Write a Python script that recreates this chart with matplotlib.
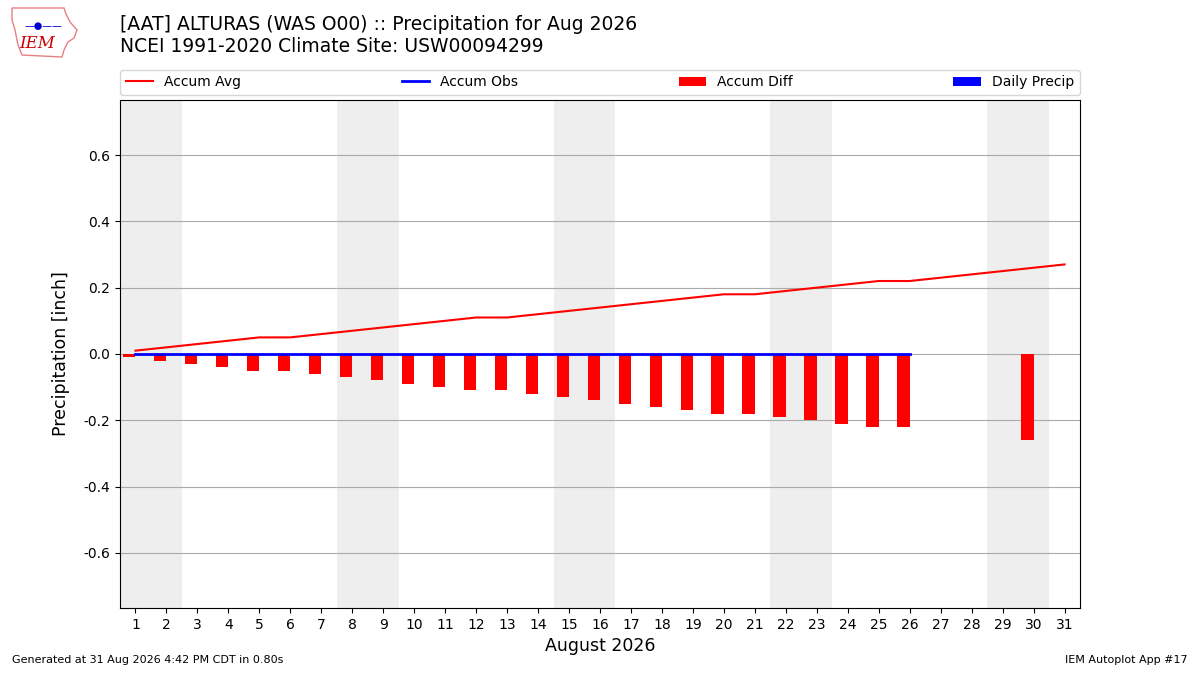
import matplotlib
matplotlib.use("Agg")
import matplotlib.pyplot as plt
from matplotlib.patches import Polygon

days = list(range(1, 32))
accum_avg = [0.01, 0.02, 0.03, 0.04, 0.05, 0.05, 0.06, 0.07, 0.08, 0.09, 0.10,
             0.11, 0.11, 0.12, 0.13, 0.14, 0.15, 0.16, 0.17, 0.18, 0.18, 0.19,
             0.20, 0.21, 0.22, 0.22, 0.23, 0.24, 0.25, 0.26, 0.27]
obs_days = list(range(1, 27))
accum_obs = [0.0] * 26
diff_days = list(range(1, 27)) + [30]
accum_diff = [-0.01, -0.02, -0.03, -0.04, -0.05, -0.05, -0.06, -0.07, -0.08,
              -0.09, -0.10, -0.11, -0.11, -0.12, -0.13, -0.14, -0.15, -0.16,
              -0.17, -0.18, -0.18, -0.19, -0.20, -0.21, -0.22, -0.22, -0.26]
daily_precip = [0.0] * 26
weekend_starts = [1, 8, 15, 22, 29]
yticks = [-0.6, -0.4, -0.2, 0.0, 0.2, 0.4, 0.6]

fig = plt.figure(figsize=(12, 6.75), dpi=100)
ax = fig.add_axes([0.1, 0.0993, 0.8, 0.7526])

for d in weekend_starts:
    ax.axvspan(d - 0.5, d + 1.5, color="#EEEEEE", zorder=0, lw=0)

ax.bar(obs_days, daily_precip, width=0.4, align="edge", color="b",
       label="Daily Precip", zorder=2)
ax.bar(diff_days, accum_diff, width=-0.4, align="edge", color="r",
       label="Accum Diff", zorder=2)
ax.plot(days, accum_avg, color="r", lw=1.5, label="Accum Avg", zorder=3)
ax.plot(obs_days, accum_obs, color="b", lw=2, label="Accum Obs", zorder=3)

ax.set_xlim(0.5, 31.5)
ax.set_ylim(-0.766, 0.766)
ax.set_xticks(days)
ax.set_yticks(yticks)
ax.set_yticklabels([f"{v:.1f}" for v in yticks])
ax.tick_params(labelsize=10)
ax.grid(axis="y", color="#AAAAAA", lw=0.8)
ax.set_axisbelow(True)
ax.set_xlabel("August 2026", fontsize=12.5)
ax.set_ylabel("Precipitation [inch]", fontsize=12.5, labelpad=10)

handles, labels = ax.get_legend_handles_labels()
order = ["Accum Avg", "Accum Obs", "Accum Diff", "Daily Precip"]
hmap = dict(zip(labels, handles))
ax.legend([hmap[k] for k in order], order, loc="lower left",
          bbox_to_anchor=(0, 1.01, 1, 0.05), mode="expand", ncol=4,
          borderaxespad=0, fontsize=10)

fig.text(0.1, 1 - 24 / 675, "[AAT] ALTURAS (WAS O00) :: Precipitation for Aug 2026",
         fontsize=13.5, va="center", ha="left")
fig.text(0.1, 1 - 47 / 675, "NCEI 1991-2020 Climate Site: USW00094299",
         fontsize=13.5, va="center", ha="left")
fig.text(0.01, 0.015, "Generated at 31 Aug 2026 4:42 PM CDT in 0.80s",
         fontsize=8, ha="left", va="bottom")
fig.text(0.99, 0.015, "IEM Autoplot App #17", fontsize=8, ha="right",
         va="bottom")

# simple logo (Iowa outline + text)
outline_px = [(12, 8), (64, 8), (66, 14), (70, 22), (77, 30), (74, 38),
              (68, 42), (64, 50), (62, 57), (22, 55), (18, 45), (15, 30),
              (12, 20)]
outline = [(x / 1200, 1 - y / 675) for x, y in outline_px]
fig.patches.append(Polygon(outline, closed=True, transform=fig.transFigure,
                           fill=False, edgecolor="#e88080", lw=1))
fig.text(0.031, 1 - 44 / 675, "IEM", color="#cc0000", fontsize=12,
         style="italic", family="DejaVu Serif", ha="center", va="center")
fig.text(0.036, 1 - 26 / 675, "\u2014\u25cf\u2014\u2014", color="#0000cc",
         fontsize=7, ha="center", va="center")

fig.savefig("out.png", dpi=100)
